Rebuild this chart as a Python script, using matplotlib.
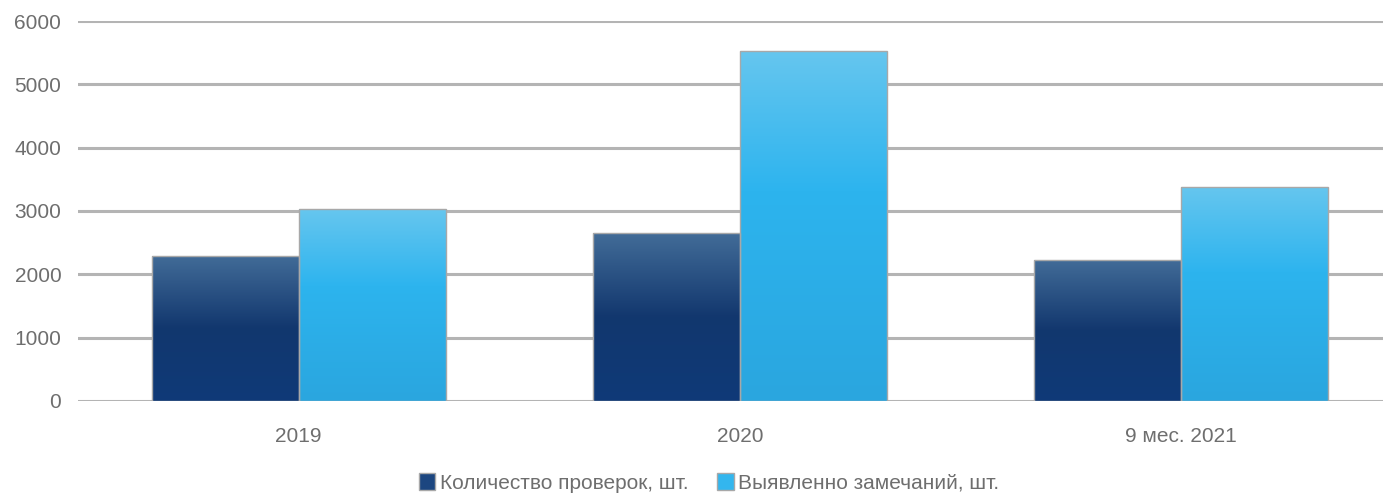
import numpy as np
import matplotlib
matplotlib.use("Agg")
import matplotlib.pyplot as plt
from matplotlib.colors import LinearSegmentedColormap
from matplotlib.patches import Patch

categories = ['2019', '2020', '9 мес. 2021']
checks = [2290, 2650, 2230]
remarks = [3030, 5530, 3380]
series_names = ['Количество проверок, шт.', 'Выявленно замечаний, шт.']
yticks = [0, 1000, 2000, 3000, 4000, 5000, 6000]

dark_cmap = LinearSegmentedColormap.from_list(
    'dark', [(0.0, '#0f3a78'), (0.5, '#12376e'), (1.0, '#426c98')])
light_cmap = LinearSegmentedColormap.from_list(
    'light', [(0.0, '#2aa6df'), (0.6, '#2db4ee'), (1.0, '#66c6ef')])

plt.rcParams['font.family'] = ['Liberation Sans', 'DejaVu Sans']

fig = plt.figure(figsize=(13.83, 4.95), dpi=100)
ax = fig.add_axes([78 / 1383, 94 / 495, 1324 / 1383, 380 / 495])

x = np.arange(len(categories))
width = 0.333
grad = np.linspace(0, 1, 256).reshape(-1, 1)


def gradient_bars(xs, values, cmap):
    bars = ax.bar(xs, values, width, color='none', edgecolor='#a8a8a8',
                  linewidth=1.0, zorder=3)
    for b in bars:
        x0, y0 = b.get_x(), b.get_y()
        im = ax.imshow(grad, cmap=cmap, aspect='auto', origin='lower',
                       extent=[x0, x0 + b.get_width(), y0, y0 + b.get_height()],
                       zorder=2)
        im.set_clip_path(b)
    return bars


gradient_bars(x - width / 2, checks, dark_cmap)
gradient_bars(x + width / 2, remarks, light_cmap)

ax.set_xlim(-0.5, 2.5)
ax.set_ylim(0, 6000)
ax.set_yticks(yticks)
ax.set_xticks(x)
ax.set_xticklabels(categories)
ax.yaxis.grid(True, color='#b4b4b4', linewidth=2.2, zorder=0)
ax.set_axisbelow(True)
for s in ax.spines.values():
    s.set_visible(False)
ax.tick_params(axis='both', length=0, labelsize=15, colors='#6e6e6e')
ax.tick_params(axis='y', pad=12)
ax.tick_params(axis='x', pad=19)

handles = [Patch(facecolor='#1c4680', edgecolor='#a8a8a8'),
           Patch(facecolor='#33b6ee', edgecolor='#a8a8a8')]
leg = fig.legend(handles, series_names, loc='center', bbox_to_anchor=(709 / 1383, 1 - 483 / 495),
                 ncol=2, frameon=False, fontsize=15, handlelength=0.8, handleheight=0.9,
                 handletextpad=0.2, columnspacing=1.4)
for t in leg.get_texts():
    t.set_color('#6e6e6e')

fig.savefig('out.png', dpi=100)
